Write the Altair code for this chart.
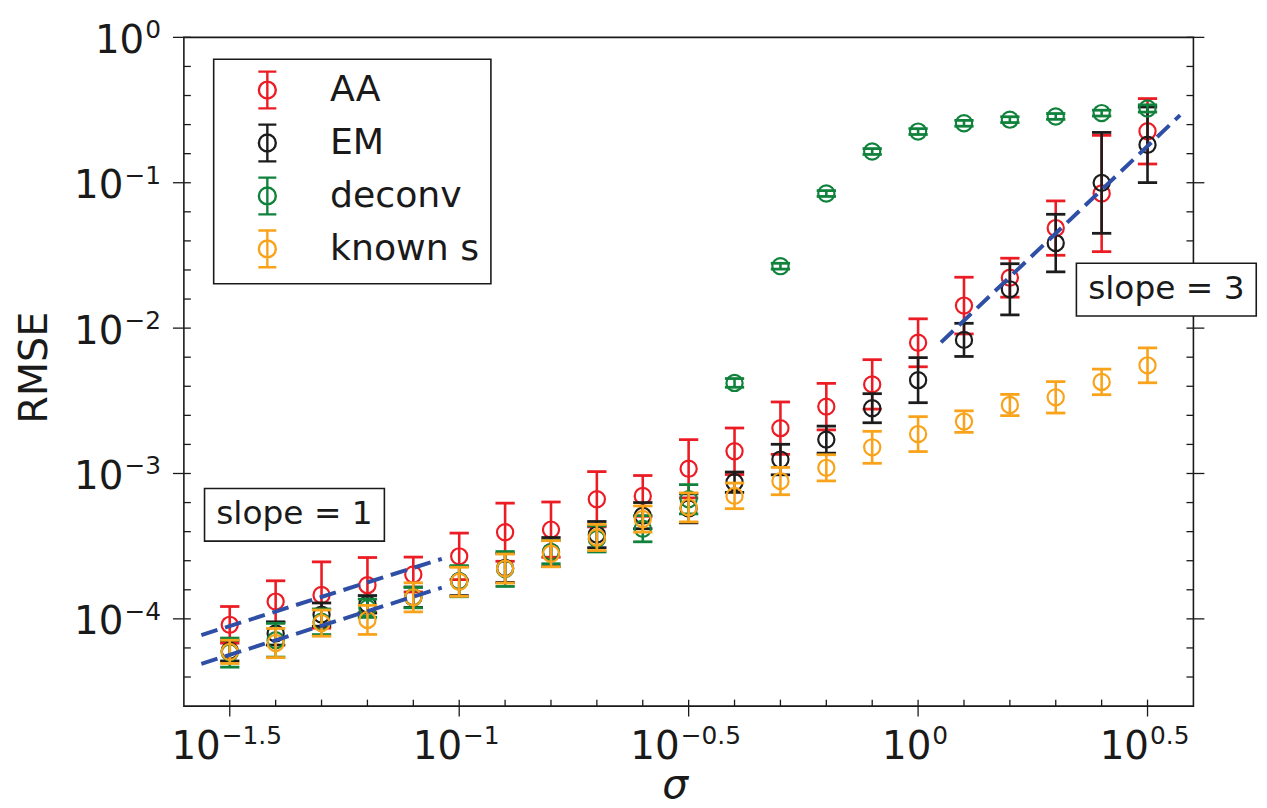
import altair as alt
import pandas as pd

# ---------------- data ----------------
sigma = [0.03162, 0.03981, 0.05012, 0.06310, 0.07943, 0.1, 0.1259, 0.1585,
         0.1995, 0.2512, 0.3162, 0.3981, 0.5012, 0.6310, 0.7943, 1.0,
         1.259, 1.585, 1.995, 2.512, 3.162]

series_names = ["AA", "EM", "deconv", "known s"]
series_colors = ["#ec1c24", "#1c1c1c", "#10823c", "#f9a31b"]

aa_rmse = [9.10e-5, 1.315e-4, 1.459e-4, 1.706e-4, 2.018e-4, 2.692e-4, 3.945e-4,
           4.111e-4, 6.653e-4, 7.015e-4, 1.079e-3, 1.422e-3, 2.051e-3, 2.884e-3,
           4.102e-3, 7.925e-3, 1.429e-2, 2.223e-2, 4.875e-2, 8.433e-2, 0.2259]
aa_err = [0.126, 0.143, 0.228, 0.19, 0.12, 0.16, 0.20, 0.19, 0.19, 0.14, 0.20,
          0.16, 0.18, 0.16, 0.17, 0.165, 0.195, 0.134, 0.187, 0.40, 0.225]

em_rmse = [6.03e-5, 7.94e-5, 1.07e-4, 1.26e-4, 1.41e-4, 1.82e-4, 2.24e-4,
           2.88e-4, 3.80e-4, 5.13e-4, 5.75e-4, 8.71e-4, 1.247e-3, 1.710e-3,
           2.812e-3, 4.385e-3, 8.30e-3, 1.849e-2, 3.846e-2, 9.98e-2, 0.1824]
em_err = [0.07, 0.08, 0.08, 0.06, 0.07, 0.10, 0.10, 0.10, 0.09, 0.09, 0.10,
          0.07, 0.105, 0.093, 0.10, 0.155, 0.114, 0.176, 0.198, 0.347, 0.26]

deconv_rmse = [5.86e-5, 7.13e-5, 9.55e-5, 1.183e-4, 1.400e-4, 1.816e-4, 2.203e-4,
               2.88e-4, 3.55e-4, 4.17e-4, 6.65e-4, 4.198e-3, 2.667e-2, 8.43e-2,
               0.164, 0.2249, 0.2564, 0.2716, 0.2858, 0.3013, 0.3243]
deconv_err = [0.10, 0.116, 0.088, 0.063, 0.07, 0.107, 0.12, 0.08, 0.09, 0.09, 0.10,
              0.03, 0.02, 0.02, 0.02, 0.02, 0.02, 0.02, 0.02, 0.02, 0.025]

known_rmse = [5.93e-5, 6.82e-5, 9.35e-5, 9.84e-5, 1.406e-4, 1.799e-4, 2.218e-4,
              2.805e-4, 3.63e-4, 4.86e-4, 5.85e-4, 7.015e-4, 8.87e-4, 1.094e-3,
              1.514e-3, 1.866e-3, 2.275e-3, 2.958e-3, 3.342e-3, 4.266e-3, 5.546e-3]
known_err = [0.08, 0.10, 0.09, 0.10, 0.10, 0.10, 0.10, 0.09, 0.09, 0.09, 0.10,
             0.088, 0.094, 0.09, 0.11, 0.12, 0.074, 0.073, 0.108, 0.088, 0.12]

# reference slope lines (end points)
line_group = ["s1a", "s1a", "s1b", "s1b", "s3", "s3"]
line_x = [0.02742, 0.09162, 0.02742, 0.09162, 1.122, 3.724]
line_y = [7.74e-5, 2.588e-4, 4.91e-5, 1.64e-4, 7.98e-3, 0.2917]

# annotations
anno_text = ["slope = 1", "slope = 3"]
anno_x = [0.04375, 3.475]
anno_y = [5.20e-4, 1.841e-2]

# ticks
x_major = [10 ** -1.5, 0.1, 10 ** -0.5, 1.0, 10 ** 0.5]
x_exps = ["\u22121.5", "\u22121", "\u22120.5", "0", "0.5"]
x_minor = [10 ** (k / 10) for k in range(-15, 6) if k % 5 != 0]
y_major = [1.0, 0.1, 0.01, 1e-3, 1e-4]
y_exps = ["0", "\u22121", "\u22122", "\u22123", "\u22124"]
y_minor = [10 ** (k / 5) for k in range(-22, 0) if k % 5 != 0]

# ---------------- styling ----------------
W, H = 1016, 673
FONT = "DejaVu Sans"
INK = "#1a1a1a"
BASE_FS = 39
EXP_FS = 25
ADV = {"\u2212": 0.838, ".": 0.318}


def adv(s, fs):
    return sum(ADV.get(c, 0.636) for c in s) * fs


xs = alt.Scale(type="log", domain=[10 ** -1.6, 10 ** 0.6], nice=False)
ys = alt.Scale(type="log", domain=[10 ** -4.6, 1.0], nice=False)
xaxis = alt.Axis(title="σ", labels=False, ticks=False, domain=False, grid=False,
                 titleFont=FONT, titleFontSize=41, titleFontStyle="italic",
                 titleFontWeight="normal", titleColor=INK, titleX=494, titleY=92,
                 titleAlign="center", titleBaseline="alphabetic")
yaxis = alt.Axis(title="RMSE", labels=False, ticks=False, domain=False, grid=False,
                 titleFont=FONT, titleFontSize=40, titleFontWeight="normal",
                 titleColor=INK, titleAngle=270, titleX=-138, titleY=332,
                 titleAlign="center", titleBaseline="alphabetic")


def X(f):
    return alt.X(f"{f}:Q", scale=xs, axis=xaxis)


def Y(f):
    return alt.Y(f"{f}:Q", scale=ys, axis=yaxis)


LEG_PATH = ("M0,-1L0,1M-0.49,-1L0.49,-1M-0.49,1L0.49,1"
            "M0.46,0A0.46,0.46,0,1,1,-0.46,0A0.46,0.46,0,1,1,0.46,0")
legend = alt.Legend(orient="none", legendX=30, legendY=22, title=None,
                    symbolType=LEG_PATH, symbolSize=1369, symbolStrokeWidth=2.4,
                    symbolFillColor="transparent", symbolOpacity=1,
                    labelFont=FONT, labelFontSize=36.5, labelColor=INK,
                    labelOffset=43, symbolOffset=23, padding=11, rowPadding=5.3,
                    fillColor="white", strokeColor=INK, cornerRadius=0,
                    labelLimit=600, direction="vertical")
color_enc = alt.Color("series:N",
                      scale=alt.Scale(domain=series_names, range=series_colors),
                      legend=legend)

layers = []

# minor / major ticks
xminor_df = pd.DataFrame({"v": x_minor})
xmajor_df = pd.DataFrame({"v": x_major})
yminor_df = pd.DataFrame({"v": y_minor})
ymajor_df = pd.DataFrame({"v": y_major})
tick_style = dict(color=INK, strokeWidth=1.3)
layers.append(alt.Chart(xminor_df).mark_rule(**tick_style).encode(
    x=X("v"), y=alt.value(H), y2=alt.value(H - 6.5)))
layers.append(alt.Chart(xmajor_df).mark_rule(**tick_style).encode(
    x=X("v"), y=alt.value(H + 10.5), y2=alt.value(H - 6.5)))
layers.append(alt.Chart(yminor_df).mark_rule(**tick_style).encode(
    y=Y("v"), x=alt.value(0), x2=alt.value(7)))
layers.append(alt.Chart(ymajor_df).mark_rule(**tick_style).encode(
    y=Y("v"), x=alt.value(-11), x2=alt.value(7)))
layers.append(alt.Chart(yminor_df).mark_rule(**tick_style).encode(
    y=Y("v"), x=alt.value(W - 7), x2=alt.value(W)))
layers.append(alt.Chart(ymajor_df).mark_rule(**tick_style).encode(
    y=Y("v"), x=alt.value(W - 7), x2=alt.value(W + 11)))

# data series
series_vals = [(aa_rmse, aa_err), (em_rmse, em_err),
               (deconv_rmse, deconv_err), (known_rmse, known_err)]
for name, (vals, errs) in zip(series_names, series_vals):
    df = pd.DataFrame({"sigma": sigma, "rmse": vals, "err": errs})
    df["series"] = name
    df["lo"] = df["rmse"] / 10 ** df["err"]
    df["hi"] = df["rmse"] * 10 ** df["err"]
    caps = pd.concat([
        pd.DataFrame({"sigma": df["sigma"], "cap": df["lo"], "series": name}),
        pd.DataFrame({"sigma": df["sigma"], "cap": df["hi"], "series": name}),
    ])
    layers.append(alt.Chart(df).mark_rule(strokeWidth=2.6, opacity=1).encode(
        x=X("sigma"), y=Y("lo"), y2="hi:Q", color=color_enc))
    layers.append(alt.Chart(caps).mark_tick(orient="horizontal", size=17,
                                            thickness=0.4, filled=False,
                                            strokeWidth=2.4, opacity=1).encode(
        x=X("sigma"), y=Y("cap"), color=color_enc))
    layers.append(alt.Chart(df).mark_point(filled=False, size=265, strokeWidth=2.2,
                                           opacity=1).encode(
        x=X("sigma"), y=Y("rmse"), color=color_enc))

# dashed reference lines
line_df = pd.DataFrame({"grp": line_group, "lx": line_x, "ly": line_y})
layers.append(alt.Chart(line_df).mark_line(strokeDash=[17, 8], strokeWidth=4,
                                           color="#2f4fa6").encode(
    x=X("lx"), y=Y("ly"), detail="grp:N"))

# annotation boxes
anno_df = pd.DataFrame({"t": anno_text, "ax": anno_x, "ay": anno_y})
BOX = "M-1,-0.293L1,-0.293L1,0.293L-1,0.293Z"
layers.append(alt.Chart(anno_df).mark_point(shape=BOX, size=181 * 181, filled=True,
                                            fill="white", stroke=INK,
                                            strokeWidth=1.6, opacity=1).encode(
    x=X("ax"), y=Y("ay")))
layers.append(alt.Chart(anno_df).mark_text(font=FONT, fontSize=33, color=INK,
                                           align="center", baseline="alphabetic",
                                           dy=9.3).encode(
    x=X("ax"), y=Y("ay"), text="t:N"))

# tick labels: x
w10 = adv("10", BASE_FS)
for v, e in zip(x_major, x_exps):
    d = pd.DataFrame({"v": [v], "b": ["10"], "e": [e]})
    anchor = (w10 - adv(e, EXP_FS)) / 2 - 3.5
    layers.append(alt.Chart(d).mark_text(font=FONT, fontSize=BASE_FS, color=INK,
                                         align="right", baseline="alphabetic",
                                         dx=anchor).encode(
        x=X("v"), y=alt.value(H + 53), text="b:N"))
    layers.append(alt.Chart(d).mark_text(font=FONT, fontSize=EXP_FS, color=INK,
                                         align="left", baseline="alphabetic",
                                         dx=anchor + 1).encode(
        x=X("v"), y=alt.value(H + 38), text="e:N"))

# tick labels: y
for v, e in zip(y_major, y_exps):
    d = pd.DataFrame({"v": [v], "b": ["10"], "e": [e]})
    layers.append(alt.Chart(d).mark_text(font=FONT, fontSize=EXP_FS, color=INK,
                                         align="right", baseline="alphabetic",
                                         dy=1).encode(
        y=Y("v"), x=alt.value(-23), text="e:N"))
    layers.append(alt.Chart(d).mark_text(font=FONT, fontSize=BASE_FS, color=INK,
                                         align="right", baseline="alphabetic",
                                         dy=15.5).encode(
        y=Y("v"), x=alt.value(-23 - adv(e, EXP_FS) - 1), text="b:N"))

chart = alt.layer(*layers).properties(
    width=W, height=H,
    autosize=alt.AutoSizeParams(type="none"),
    padding={"left": 177, "top": 27, "right": 66, "bottom": 100},
).configure_view(stroke=INK, strokeWidth=1.6).configure_legend(strokeWidth=1.6)

chart.save("out.html", embed_options={"renderer": "svg", "actions": False})
